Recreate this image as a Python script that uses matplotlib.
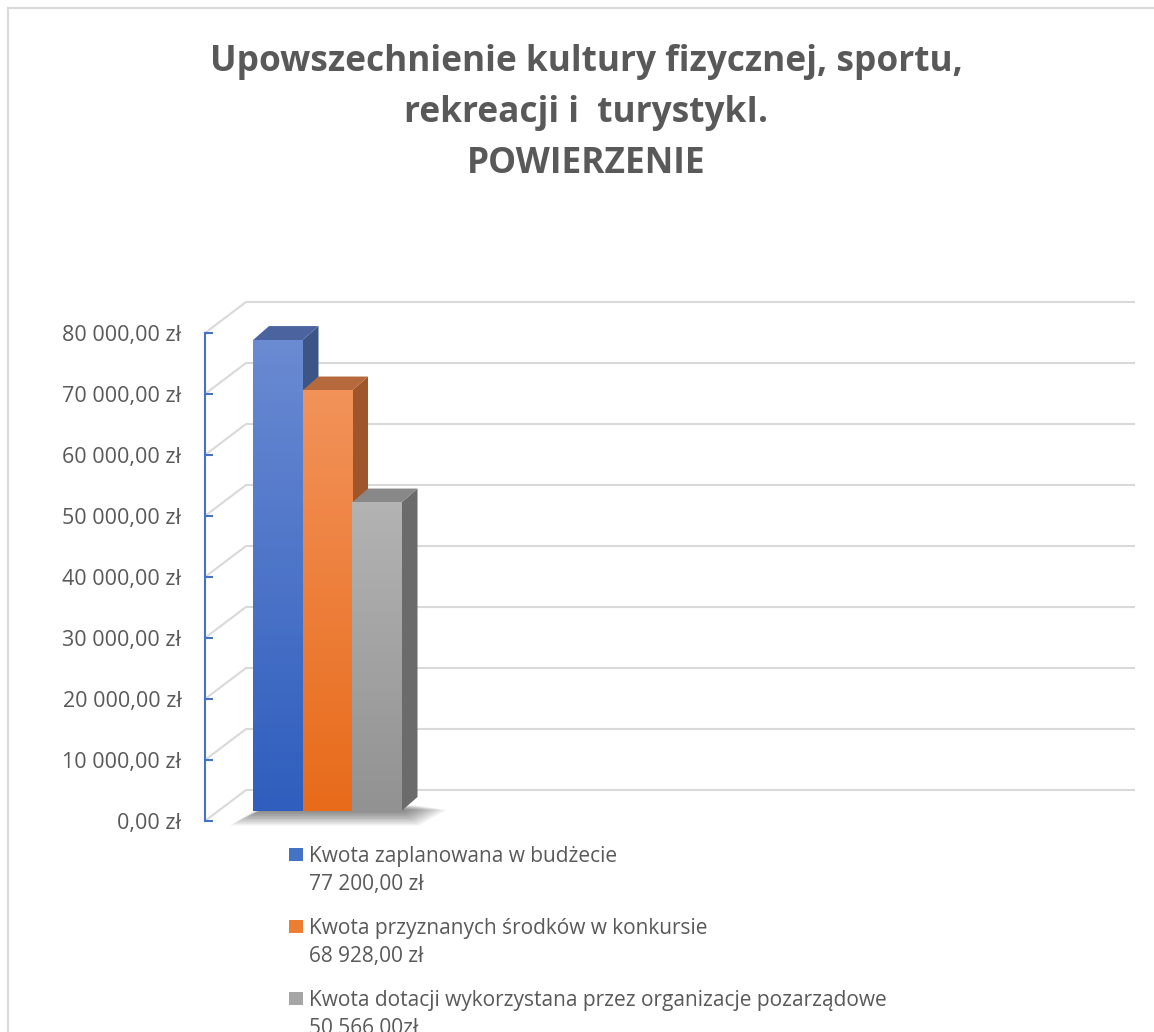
import matplotlib
matplotlib.use('Agg')
import matplotlib.pyplot as plt
import numpy as np
from matplotlib.patches import Polygon, Rectangle
from matplotlib.lines import Line2D
from matplotlib.ticker import FuncFormatter

# data
labels = ['Kwota zaplanowana w budżecie',
          'Kwota przyznanych środków w konkursie',
          'Kwota dotacji wykorzystana przez organizacje pozarządowe']
values = [77200, 68928, 50566]
value_labels = ['77 200,00 zł', '68 928,00 zł', '50 566,00zł']
title_lines = ['Upowszechnienie kultury fizycznej, sportu,',
               'rekreacji i  turystykI.',
               'POWIERZENIE']

front = ['#6a8ad2', '#f29259', '#b3b3b3']
front_bot = ['#2f5ebe', '#e86b1b', '#929292']
side = ['#3b5586', '#a0562b', '#6b6b6b']
top = ['#4b64a0', '#b5693c', '#888888']
legend_cols = ['#4472c4', '#ed7d31', '#a5a5a5']
txt = '#595959'

W, H = 1154, 1032
plt.rcParams['font.family'] = ['Open Sans', 'DejaVu Sans']

fig = plt.figure(figsize=(W / 100, H / 100), dpi=100)
fig.add_artist(Line2D([8 / W, 1], [1 - 8 / H, 1 - 8 / H], color='#d9d9d9', lw=1.5))
fig.add_artist(Line2D([8 / W, 8 / W], [0, 1 - 8 / H], color='#d9d9d9', lw=1.5))

# front plane of the axis
left, right, ytop, ybot = 205, 1093, 333, 821
ax = fig.add_axes([left / W, 1 - ybot / H, (right - left) / W, (ybot - ytop) / H])
ymax = 80000
ux = 49.5                     # px per bar unit
uy = (ybot - ytop) / ymax     # px per zl
x0 = -0.5 - 35 / ux
x1 = x0 + (right - left) / ux

def off(px, py):
    return px / ux, py / uy

# grid on back wall
gdx, gdy = off(41, 31)
for v in np.arange(0, ymax + 1, 10000):
    ax.plot([x0, x0 + gdx, x1 + gdx], [v, v + gdy, v + gdy], color='#d9d9d9',
            lw=1.5, clip_on=False, zorder=1)

# bars
bdx, bdy = off(13, 10)
ddx, ddy = off(16, 14)
x = np.arange(len(values)) + bdx

# floor shadow
for k in range(10):
    s = k * 1.6
    sx, sy = off(s, s)
    pts = [(x[0] - 0.5 - sx * 1.6, bdy - sy), (x[-1] + 0.5 + sx * 1.2, bdy - sy),
           (x[-1] + 0.5 + ddx + sx * 2.0, bdy + ddy * 0.4 - sy * 0.3),
           (x[0] - 0.5 + ddx - sx * 0.5, bdy + ddy * 0.4 - sy * 0.3)]
    ax.add_patch(Polygon(pts, closed=True, facecolor='black', edgecolor='none',
                         alpha=0.06, clip_on=False, zorder=2))

bars = ax.bar(x, values, width=1, bottom=bdy, color=front, edgecolor='none',
              clip_on=False, zorder=3)
for i, b in enumerate(bars):
    l, r = b.get_x(), b.get_x() + b.get_width()
    bt, tp = b.get_y(), b.get_y() + b.get_height()
    z = 3 + i * 0.1
    ax.add_patch(Polygon([(r, bt), (r + ddx, bt + ddy), (r + ddx, tp + ddy), (r, tp)],
                         facecolor=side[i], edgecolor='none', clip_on=False, zorder=z))
    ax.add_patch(Polygon([(l, tp), (r, tp), (r + ddx, tp + ddy), (l + ddx, tp + ddy)],
                         facecolor=top[i], edgecolor='none', clip_on=False, zorder=z))
    c1 = np.array(matplotlib.colors.to_rgb(front[i]))
    c2 = np.array(matplotlib.colors.to_rgb(front_bot[i]))
    t = np.linspace(0, 1, 64)[:, None]
    grad = (c1 * (1 - t) + c2 * t)[:, None, :]
    ax.imshow(grad, extent=[l, r, bt, tp], aspect='auto', origin='upper',
              zorder=z + 0.05, clip_on=False)
ax.set_xlim(x0, x1)
ax.set_ylim(0, ymax)

# axis
for s in ['top', 'right', 'bottom']:
    ax.spines[s].set_visible(False)
ax.spines['left'].set_color('#4472c4')
ax.spines['left'].set_linewidth(1.5)
ax.set_xticks([])
ax.set_yticks(np.arange(0, ymax + 1, 10000))
ax.yaxis.set_major_formatter(FuncFormatter(
    lambda v, p: f'{v:,.2f}'.replace(',', ' ').replace('.', ',') + ' zł'))
ax.tick_params(axis='y', direction='in', length=6, width=1.5, color='#4472c4',
               labelcolor=txt, labelsize=15.5, pad=17)
ax.patch.set_alpha(0)

# title
for k, line in enumerate(title_lines):
    fig.text(586 / W, 1 - (71 + 51 * k) / H, line, ha='center', va='baseline',
             fontsize=25.4, fontweight='bold', color=txt)

# legend
for i in range(len(labels)):
    yb = 862 + 72 * i
    fig.add_artist(Rectangle((289 / W, 1 - (yb - 1) / H), 14 / W, 13 / H,
                             facecolor=legend_cols[i], edgecolor='none'))
    fig.text(309 / W, 1 - yb / H, labels[i], ha='left', va='baseline',
             fontsize=15, color=txt)
    fig.text(309 / W, 1 - (yb + 28) / H, value_labels[i], ha='left', va='baseline',
             fontsize=15, color=txt)

fig.savefig('out.png', dpi=100)
